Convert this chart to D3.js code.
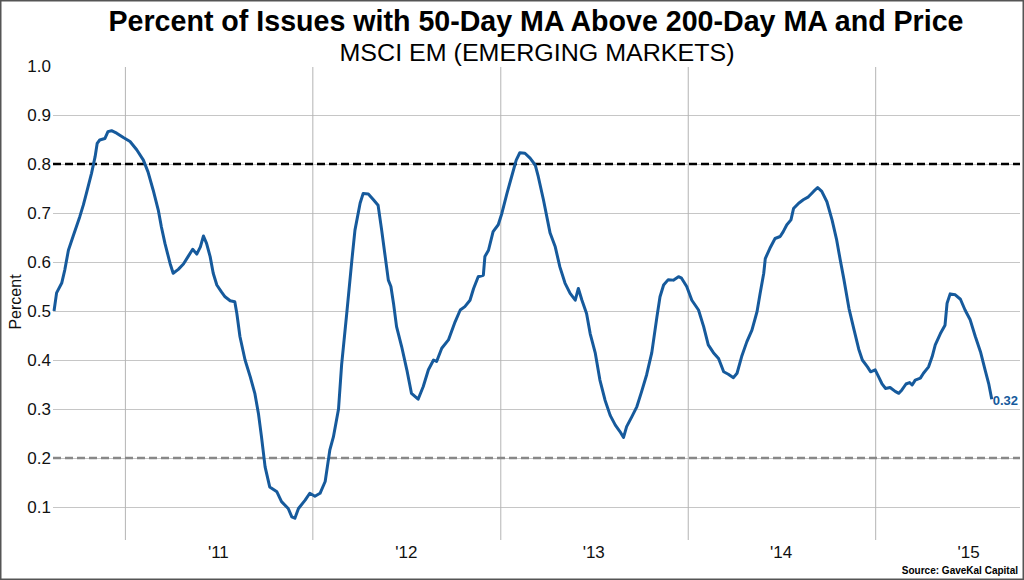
<!DOCTYPE html>
<html>
<head>
<meta charset="utf-8">
<script src="https://cdnjs.cloudflare.com/ajax/libs/d3/7.8.5/d3.min.js"></script>
<style>
  body { margin: 0; background: #fff; }
  svg { display: block; }
</style>
</head>
<body>
<svg id="chart"></svg>
<script>
// data
const dates = [
  "2010-08-16","2010-08-21","2010-08-31","2010-09-06","2010-09-13","2010-09-22","2010-10-05","2010-10-12","2010-10-18","2010-10-28",
  "2010-11-04","2010-11-08","2010-11-13","2010-11-23","2010-11-29","2010-12-06","2010-12-16","2010-12-29","2011-01-11","2011-01-24",
  "2011-02-06","2011-02-15","2011-02-25","2011-03-07","2011-03-13","2011-03-20","2011-03-30","2011-04-05","2011-04-15","2011-04-25",
  "2011-05-04","2011-05-13","2011-05-21","2011-05-28","2011-06-03","2011-06-09","2011-06-16","2011-06-22","2011-06-29","2011-07-08",
  "2011-07-15","2011-07-25","2011-08-03","2011-08-07","2011-08-13","2011-08-23","2011-09-02","2011-09-11","2011-09-18","2011-09-24",
  "2011-10-01","2011-10-10","2011-10-24","2011-11-02","2011-11-15","2011-11-22","2011-11-28","2011-12-05","2011-12-18","2011-12-27",
  "2012-01-06","2012-01-16","2012-01-26","2012-02-04","2012-02-11","2012-02-21","2012-02-27","2012-03-08","2012-03-18","2012-03-24",
  "2012-04-03","2012-04-09","2012-04-19","2012-04-29","2012-05-08","2012-05-15","2012-05-21","2012-05-28","2012-06-02","2012-06-07",
  "2012-06-13","2012-06-23","2012-07-03","2012-07-12","2012-07-25","2012-08-04","2012-08-14","2012-08-24","2012-08-30","2012-09-09",
  "2012-09-22","2012-10-05","2012-10-15","2012-10-24","2012-11-03","2012-11-10","2012-11-19","2012-11-29","2012-12-02","2012-12-09",
  "2012-12-18","2012-12-28","2013-01-04","2013-01-14","2013-01-23","2013-02-01","2013-02-08","2013-02-18","2013-02-28","2013-03-10",
  "2013-03-16","2013-03-26","2013-04-08","2013-04-18","2013-04-27","2013-05-07","2013-05-17","2013-05-27","2013-06-02","2013-06-09",
  "2013-06-18","2013-06-25","2013-07-05","2013-07-14","2013-07-24","2013-08-03","2013-08-13","2013-08-22","2013-08-29","2013-09-04",
  "2013-09-14","2013-09-24","2013-10-03","2013-10-13","2013-10-23","2013-11-02","2013-11-08","2013-11-15","2013-11-24","2013-12-04",
  "2013-12-14","2013-12-20","2013-12-30","2014-01-09","2014-01-22","2014-02-01","2014-02-10","2014-02-20","2014-03-02","2014-03-12",
  "2014-03-21","2014-03-31","2014-04-07","2014-04-16","2014-04-26","2014-05-06","2014-05-16","2014-05-22","2014-05-29","2014-06-01",
  "2014-06-10","2014-06-20","2014-06-30","2014-07-06","2014-07-13","2014-07-21","2014-07-26","2014-08-05","2014-08-14","2014-08-24",
  "2014-09-03","2014-09-11","2014-09-19","2014-09-29","2014-10-09","2014-10-18","2014-10-25","2014-11-01","2014-11-11","2014-11-21",
  "2014-11-30","2014-12-07","2014-12-17","2014-12-23","2015-01-01","2015-01-08","2015-01-14","2015-01-21","2015-01-30","2015-02-09",
  "2015-02-16","2015-02-22","2015-03-02","2015-03-09","2015-03-14","2015-03-20","2015-03-30","2015-04-05","2015-04-15","2015-04-22",
  "2015-04-28","2015-05-08","2015-05-17","2015-05-21","2015-05-27","2015-06-06","2015-06-16","2015-06-25","2015-07-05","2015-07-15",
  "2015-07-25","2015-08-03","2015-08-10","2015-08-16"
];
const values = [
  0.500,0.537,0.557,0.584,0.624,0.652,0.692,0.716,0.740,0.781,
  0.815,0.842,0.849,0.852,0.866,0.868,0.863,0.854,0.846,0.829,
  0.808,0.784,0.747,0.706,0.672,0.638,0.597,0.577,0.585,0.596,
  0.611,0.626,0.616,0.631,0.653,0.638,0.611,0.577,0.553,0.539,
  0.529,0.521,0.519,0.495,0.448,0.400,0.366,0.332,0.291,0.243,
  0.182,0.141,0.131,0.111,0.097,0.080,0.077,0.097,0.114,0.128,
  0.122,0.128,0.152,0.216,0.243,0.300,0.390,0.495,0.604,0.665,
  0.720,0.740,0.739,0.727,0.716,0.665,0.618,0.563,0.550,0.516,
  0.468,0.427,0.380,0.332,0.320,0.346,0.380,0.400,0.397,0.424,
  0.441,0.478,0.502,0.509,0.522,0.546,0.570,0.573,0.611,0.624,
  0.662,0.676,0.699,0.740,0.774,0.808,0.823,0.822,0.812,0.798,
  0.774,0.727,0.659,0.631,0.590,0.557,0.536,0.522,0.546,0.522,
  0.495,0.454,0.414,0.359,0.318,0.287,0.267,0.254,0.242,0.264,
  0.284,0.305,0.335,0.370,0.415,0.488,0.529,0.553,0.564,0.563,
  0.570,0.567,0.550,0.522,0.502,0.468,0.431,0.415,0.403,0.376,
  0.371,0.364,0.373,0.407,0.437,0.461,0.499,0.536,0.577,0.607,
  0.628,0.648,0.652,0.662,0.676,0.686,0.709,0.720,0.727,0.733,
  0.744,0.752,0.744,0.723,0.686,0.645,0.604,0.565,0.505,0.461,
  0.422,0.400,0.386,0.376,0.380,0.365,0.352,0.342,0.344,0.336,
  0.332,0.339,0.351,0.354,0.349,0.359,0.363,0.373,0.386,0.407,
  0.431,0.454,0.471,0.516,0.535,0.533,0.524,0.502,0.482,0.448,
  0.417,0.380,0.352,0.320
];
const yTicks = [0.1, 0.2, 0.3, 0.4, 0.5, 0.6, 0.7, 0.8, 0.9, 1.0];
const yearStarts = ["2011-01-01", "2012-01-01", "2013-01-01", "2014-01-01", "2015-01-01"];
const yearMids = ["2011-07-01", "2012-07-01", "2013-07-01", "2014-07-01", "2015-07-01"];
const xDomain = ["2010-08-14", "2015-10-10"];
const refHigh = 0.8;
const refLow = 0.2;
const lastLabel = "0.32";

const W = 1024, H = 580;
const plotLeft = 53, plotRight = 1020, plotTop = 66, plotBottom = 540;
const parse = d3.timeParse("%Y-%m-%d");
const points = dates.map((d, i) => ({ date: parse(d), value: values[i] }));

const svg = d3.select("#chart").attr("width", W).attr("height", H);
svg.append("rect").attr("width", W).attr("height", H).attr("fill", "#fff");

const x = d3.scaleTime().domain(xDomain.map(parse)).range([plotLeft, plotRight]);
const y = d3.scaleLinear().domain([0, 1]).range([556, plotTop]);

// grille horizontale
svg.append("g")
    .attr("transform", `translate(${plotLeft},0)`)
    .call(d3.axisLeft(y).tickValues(yTicks.filter(t => t < 1)).tickSize(-(plotRight - plotLeft)).tickFormat(""))
    .call(g => g.select(".domain").remove())
    .call(g => g.selectAll("line").attr("stroke", "#c6c6c6").attr("stroke-width", 1));

// grille verticale (debut d'annee)
svg.append("g")
    .attr("transform", `translate(0,${plotBottom})`)
    .call(d3.axisBottom(x).tickValues(yearStarts.map(parse)).tickSize(-(plotBottom - plotTop - 1)).tickFormat(""))
    .call(g => g.select(".domain").remove())
    .call(g => g.selectAll("line").attr("stroke", "#b4b4b4").attr("stroke-width", 1));

// labels axe y
svg.append("g")
    .attr("transform", `translate(${plotLeft},0)`)
    .call(d3.axisLeft(y).tickValues(yTicks).tickSize(0).tickPadding(2).tickFormat(d3.format(".1f")))
    .call(g => g.select(".domain").remove())
    .call(g => g.selectAll("text").attr("font-family", "Liberation Sans, Arial, sans-serif").attr("font-size", 17).attr("fill", "#111"));

// labels axe x (milieu d'annee)
svg.append("g")
    .attr("transform", `translate(0,${plotBottom})`)
    .call(d3.axisBottom(x).tickValues(yearMids.map(parse)).tickSize(0).tickPadding(6).tickFormat(d => "'" + d3.timeFormat("%y")(d)))
    .call(g => g.select(".domain").remove())
    .call(g => g.selectAll("text").attr("font-family", "Liberation Sans, Arial, sans-serif").attr("font-size", 17).attr("fill", "#111"));

// lignes de reference
svg.append("line")
    .attr("x1", plotLeft).attr("x2", plotRight)
    .attr("y1", y(refHigh)).attr("y2", y(refHigh))
    .attr("stroke", "#000").attr("stroke-width", 2.5).attr("stroke-dasharray", "8,4");
svg.append("line")
    .attr("x1", plotLeft).attr("x2", plotRight)
    .attr("y1", y(refLow)).attr("y2", y(refLow))
    .attr("stroke", "#888").attr("stroke-width", 2.5).attr("stroke-dasharray", "8,4");

// la serie
const line = d3.line().x(d => x(d.date)).y(d => y(d.value));
svg.append("path")
    .datum(points)
    .attr("d", line)
    .attr("fill", "none")
    .attr("stroke", "#165a9c")
    .attr("stroke-width", 3)
    .attr("stroke-linejoin", "round");

const last = points[points.length - 1];
svg.append("text")
    .attr("x", x(last.date) + 1)
    .attr("y", y(last.value) + 1)
    .attr("dy", "0.35em")
    .attr("font-family", "Liberation Sans, Arial, sans-serif")
    .attr("font-size", 13)
    .attr("font-weight", "bold")
    .attr("fill", "#165a9c")
    .text(lastLabel);

// titres
svg.append("text")
    .attr("x", 536).attr("y", 31)
    .attr("text-anchor", "middle")
    .attr("font-family", "Liberation Sans Narrow, Liberation Sans, Arial, sans-serif")
    .attr("font-size", 30)
    .attr("font-weight", "bold")
    .attr("textLength", 855).attr("lengthAdjust", "spacingAndGlyphs")
    .attr("fill", "#000")
    .text("Percent of Issues with 50-Day MA Above 200-Day MA and Price");
svg.append("text")
    .attr("x", 537).attr("y", 61)
    .attr("text-anchor", "middle")
    .attr("font-family", "Liberation Sans Narrow, Liberation Sans, Arial, sans-serif")
    .attr("font-size", 23)
    .attr("textLength", 395).attr("lengthAdjust", "spacingAndGlyphs")
    .attr("fill", "#000")
    .text("MSCI EM (EMERGING MARKETS)");

svg.append("text")
    .attr("transform", "translate(21,302) rotate(-90)")
    .attr("text-anchor", "middle")
    .attr("font-family", "Liberation Sans, Arial, sans-serif")
    .attr("font-size", 16)
    .attr("fill", "#111")
    .text("Percent");

svg.append("text")
    .attr("x", 1018).attr("y", 574)
    .attr("text-anchor", "end")
    .attr("font-family", "Liberation Sans, Arial, sans-serif")
    .attr("font-size", 10)
    .attr("font-weight", "bold")
    .attr("fill", "#000")
    .text("Source: GaveKal Capital");

// cadre
svg.append("rect")
    .attr("x", 0.75).attr("y", 0.75)
    .attr("width", W - 1.5).attr("height", H - 1.5)
    .attr("fill", "none").attr("stroke", "#555").attr("stroke-width", 1.5);
</script>
</body>
</html>
